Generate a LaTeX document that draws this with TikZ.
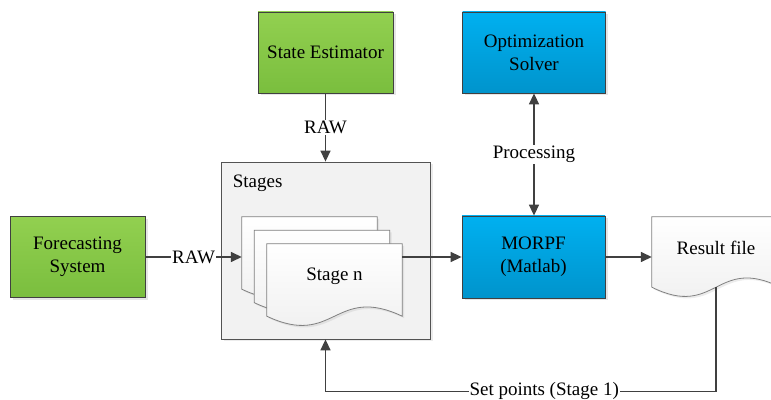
\documentclass[tikz,border=0pt]{standalone}
\usepackage{fontspec}
\setmainfont{Liberation Serif}
\usetikzlibrary{positioning, arrows.meta, calc, shadows}
\definecolor{boxgreen}{RGB}{146,208,80}
\definecolor{boxgreendk}{RGB}{122,190,62}
\definecolor{boxblue}{RGB}{0,176,240}
\definecolor{boxbluedk}{RGB}{0,148,204}
\definecolor{linegrey}{RGB}{64,64,64}
\definecolor{stagegrey}{RGB}{242,242,242}
\tikzset{
    greenbox/.style={rectangle, draw=linegrey, line width=0.8pt, top color=boxgreen, bottom color=boxgreendk, minimum width=135pt, minimum height=81pt, align=center, font=\fontsize{19}{23}\selectfont, drop shadow={shadow xshift=2.5pt, shadow yshift=-2.5pt, opacity=0.2}},
    bluebox/.style={rectangle, draw=linegrey, line width=0.8pt, top color=boxblue, bottom color=boxbluedk, minimum width=143pt, minimum height=81pt, align=center, font=\fontsize{19}{23}\selectfont, drop shadow={shadow xshift=2.5pt, shadow yshift=-2.5pt, opacity=0.2}},
    stagebox/.style={rectangle, draw=linegrey!90, fill=stagegrey, line width=0.8pt, minimum width=209pt, minimum height=177pt, drop shadow={shadow xshift=2.5pt, shadow yshift=-2.5pt, opacity=0.15}},
    docbox/.style={rectangle, minimum width=135pt, minimum height=72pt, inner sep=0pt},
    docline/.style={draw=gray, line width=0.8pt, top color=white, bottom color=gray!14, drop shadow={shadow xshift=2pt, shadow yshift=-2pt, opacity=0.15}},
    doctext/.style={font=\fontsize{19}{23}\selectfont, text=black, yshift=4pt},
    lbl/.style={font=\fontsize{19}{23}\selectfont, text=black, fill=white, inner sep=1pt},
    arr/.style={-{Triangle[length=11pt, width=10pt]}, line width=1.5pt, draw=linegrey},
    dblarr/.style={{Triangle[length=11pt, width=10pt]}-{Triangle[length=11pt, width=10pt]}, line width=1.5pt, draw=linegrey}
}
% document outline with wavy bottom, text put on top
\newcommand{\docoutline}[2]{%
    \path[docline] (#1.north west) -- (#1.north east) -- (#1.south east)
        .. controls ($(#1.south)+(0,32)$) and ($(#1.south)+(0,-32)$) .. (#1.south west) -- cycle;
    \node[doctext] (#1-txt) at (#1) {#2};
}

\begin{document}
\begin{tikzpicture}[x=1pt, y=1pt]
    \useasboundingbox (0,0) rectangle (771,399);

    % Sources and solver
    \node[greenbox] (fc) at (77.5, 142) {Forecasting\\System};
    \node[greenbox] (se) at (325.5, 346.5) {State Estimator};
    \node[bluebox] (opt) at (534, 346.5) {Optimization\\Solver};
    \node[bluebox, minimum height=82pt] (morpf) at (533.5, 142) {MORPF\\(Matlab)};

    % Stages container
    \node[stagebox] (stages) at (325.5, 148.5) {};
    \node[font=\fontsize{19}{23}\selectfont, anchor=north west, inner sep=0pt] (stglbl) at ($(stages.north west)+(12,-13)$) {Stages};

    % Stacked stage documents
    \node[docbox] (stg1) at (309.5, 146) {};
    \docoutline{stg1}{}
    \node[docbox] (stg2) at ($(stg1)+(12.5,-13.5)$) {};
    \docoutline{stg2}{}
    \node[docbox] (stg3) at ($(stg1)+(25,-27)$) {};
    \docoutline{stg3}{Stage n}

    % Result file
    \node[docbox, minimum width=128pt, minimum height=70pt] (res) at (716, 147) {};
    \docoutline{res}{Result file}

    % Connectors
    \draw[arr] (fc.east) -- node[lbl] {RAW} (fc.east -| stg1.west);
    \draw[arr] (se.south) -- node[lbl] {RAW} (stages.north);
    \draw[dblarr] (opt.south) -- node[lbl] {Processing} (opt.south |- morpf.north);
    \draw[arr] (morpf.west -| stg3.east) -- (morpf.west);
    \draw[arr] (morpf.east) -- (morpf.east -| res.west);
    \draw[arr] (res.south) |- node[lbl, pos=0.72] {Set points (Stage 1)} ($(stages.south)+(0,-52)$) -- (stages.south);
\end{tikzpicture}
\end{document}
